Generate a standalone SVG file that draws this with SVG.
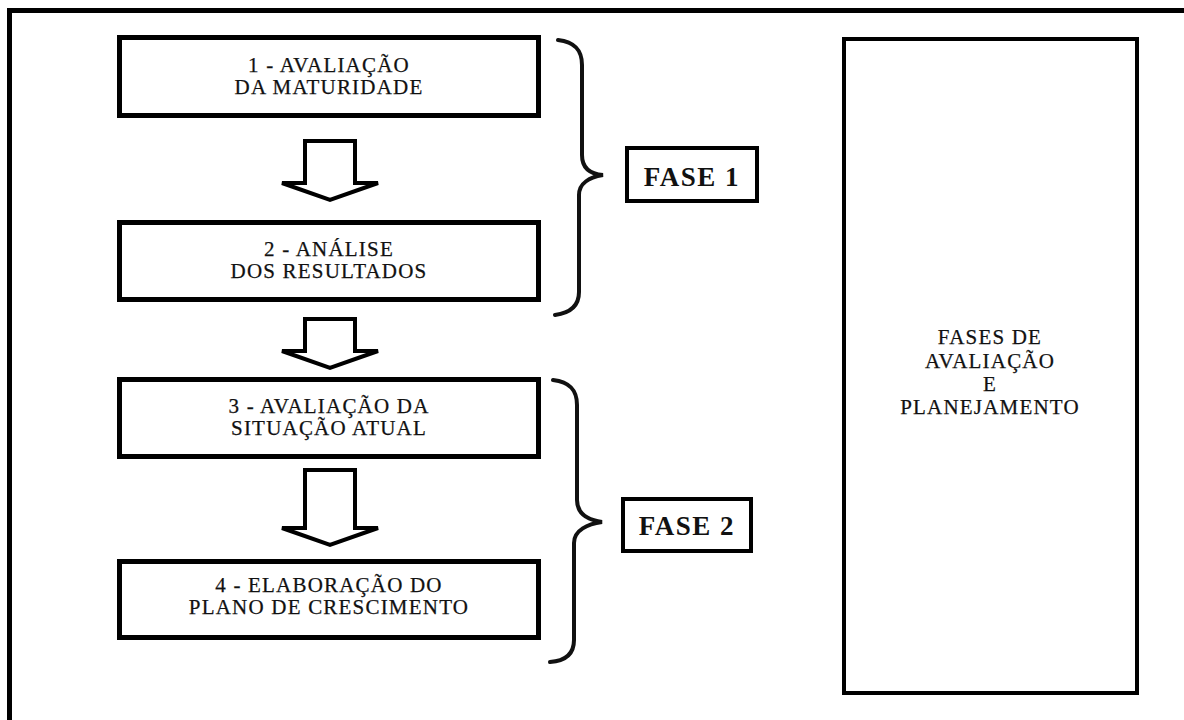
<svg xmlns="http://www.w3.org/2000/svg" width="1184" height="720" viewBox="0 0 1184 720">
<style>
.box{fill:#fff;stroke:#000;stroke-width:5}
.fbox{fill:#fff;stroke:#000;stroke-width:4}
.t{font-family:"Liberation Serif","Times New Roman",serif;font-size:21px;letter-spacing:1.2px;text-anchor:middle;fill:#111;stroke:#111;stroke-width:0.25}
.fb{font-family:"Liberation Serif","Times New Roman",serif;font-size:27px;font-weight:bold;letter-spacing:1.5px;text-anchor:middle;fill:#111}
.arr{fill:#fff;stroke:#000;stroke-width:4;stroke-linejoin:miter}
.brace{fill:none;stroke:#111;stroke-width:4;stroke-linecap:round}
</style>
<rect width="1184" height="720" fill="#fff"/>
<path d="M9.5,720 V10.5 H1184" fill="none" stroke="#000" stroke-width="5"/>
<g id="n1">
<rect class="box" x="119.5" y="37.5" width="419" height="78"/>
<text class="t" x="329" y="72">1 - AVALIAÇÃO</text>
<text class="t" x="329" y="94">DA MATURIDADE</text>
</g>
<g id="n2">
<rect class="box" x="119.5" y="222.5" width="419" height="77"/>
<text class="t" x="329" y="256">2 - ANÁLISE</text>
<text class="t" x="329" y="278">DOS RESULTADOS</text>
</g>
<g id="n3">
<rect class="box" x="119.5" y="379.5" width="419" height="77"/>
<text class="t" x="329" y="413">3 - AVALIAÇÃO DA</text>
<text class="t" x="329" y="435">SITUAÇÃO ATUAL</text>
</g>
<g id="n4">
<rect class="box" x="119.5" y="561.5" width="419" height="76"/>
<text class="t" x="329" y="592">4 - ELABORAÇÃO DO</text>
<text class="t" x="329" y="614">PLANO DE CRESCIMENTO</text>
</g>
<g id="fase1">
<rect class="fbox" x="627" y="148" width="130" height="53"/>
<text class="fb" x="692" y="186">FASE 1</text>
</g>
<g id="fase2">
<rect class="fbox" x="623" y="499" width="128" height="52"/>
<text class="fb" x="687" y="535">FASE 2</text>
</g>
<g id="summary">
<rect class="fbox" x="844" y="39" width="293" height="654"/>
<text class="t" x="990" y="344">FASES DE</text>
<text class="t" x="990" y="368">AVALIAÇÃO</text>
<text class="t" x="990" y="391">E</text>
<text class="t" x="990" y="414">PLANEJAMENTO</text>
</g>
<g id="connectors">
<polygon class="arr" points="305,141 305,183 282,183 330,200 378,183 355,183 355,141"/>
<polygon class="arr" points="305,319 305,351 282,351 330,368 378,351 355,351 355,319"/>
<polygon class="arr" points="305,470 305,528 282,528 330,545 378,528 355,528 355,470"/>
<path class="brace" d="M558,40 C575,42 582,50 582,65 L582,155 C582,168 590,174 603,175 C590,177 579,183 579,195 L579,292 C579,306 570,313 555,315"/>
<path class="brace" d="M553,380 C570,382 577,390 577,405 L577,500 C577,514 588,520 602,522 C588,524 574,530 574,543 L574,640 C574,654 565,661 550,662"/>
</g>
</svg>
